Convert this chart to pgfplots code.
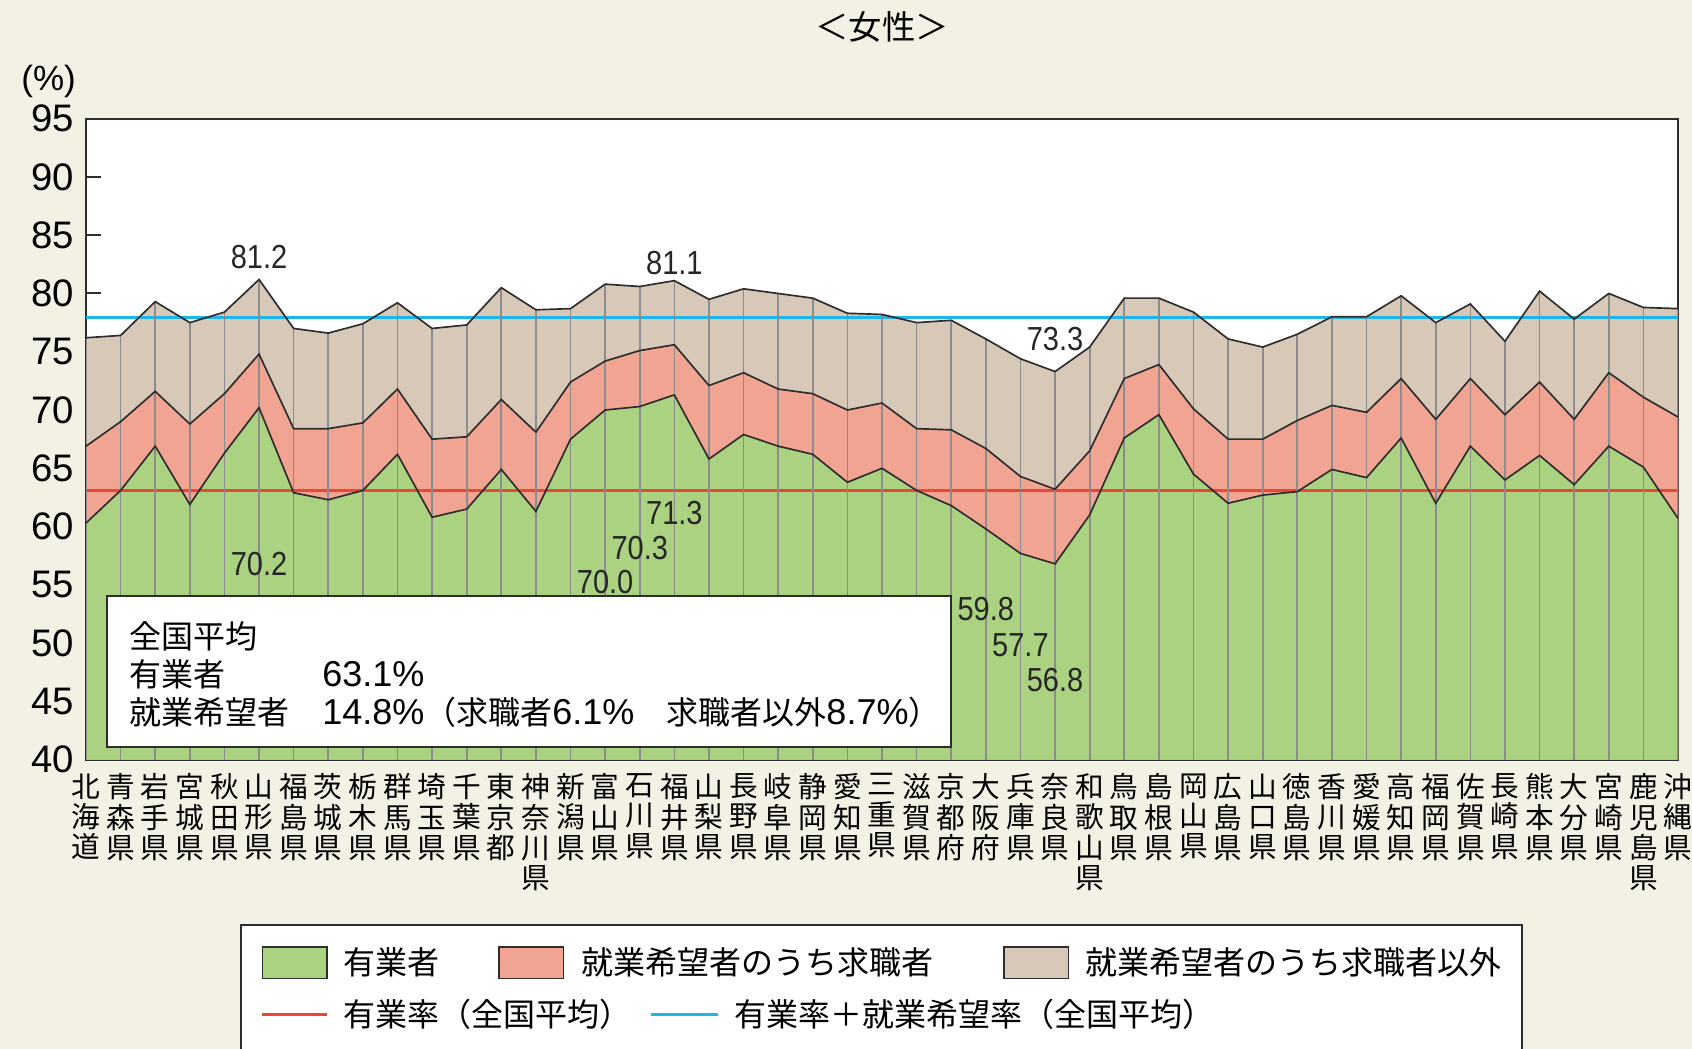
\documentclass[border=0pt]{standalone}
\usepackage{fontspec}
\usepackage{pgfplots}
\pgfplotsset{compat=1.18}
\usepackage{pgfplotstable}
\setmainfont{Liberation Sans}
\newfontfamily\jp{Noto Sans CJK JP}
\newfontfamily\narrow[FakeStretch=0.87]{Liberation Sans}
\definecolor{bg}{RGB}{243,240,228}
\definecolor{gr}{RGB}{170,210,128}
\definecolor{sa}{RGB}{242,164,146}
\definecolor{be}{RGB}{215,200,184}
\definecolor{bl}{RGB}{30,182,232}
\definecolor{rd}{RGB}{234,72,52}
\definecolor{ol}{RGB}{45,45,45}

\pgfplotstableread{
x g m t
0 60.3 66.9 76.2
1 63.1 69.0 76.4
2 66.9 71.6 79.3
3 61.9 68.8 77.5
4 66.3 71.4 78.4
5 70.2 74.8 81.2
6 62.9 68.4 77.0
7 62.3 68.4 76.6
8 63.1 68.9 77.4
9 66.2 71.8 79.2
10 60.8 67.5 77.0
11 61.5 67.7 77.3
12 64.9 70.9 80.5
13 61.3 68.1 78.6
14 67.5 72.4 78.7
15 70.0 74.2 80.8
16 70.3 75.1 80.6
17 71.3 75.6 81.1
18 65.8 72.1 79.5
19 67.9 73.2 80.4
20 66.9 71.8 80.0
21 66.2 71.4 79.6
22 63.8 70.0 78.3
23 65.0 70.6 78.2
24 63.1 68.4 77.5
25 61.8 68.3 77.7
26 59.8 66.7 76.1
27 57.7 64.3 74.4
28 56.8 63.2 73.3
29 61.0 66.5 75.4
30 67.6 72.7 79.6
31 69.6 73.9 79.6
32 64.5 70.1 78.4
33 62.0 67.5 76.1
34 62.7 67.5 75.4
35 63.0 69.1 76.5
36 64.9 70.4 78.0
37 64.2 69.8 78.0
38 67.6 72.7 79.8
39 62.0 69.2 77.5
40 66.9 72.7 79.1
41 64.0 69.6 75.9
42 66.1 72.4 80.2
43 63.6 69.2 77.8
44 66.9 73.2 80.0
45 65.1 71.1 78.8
46 60.7 69.4 78.7
}\data

\begin{document}
\begin{tikzpicture}
\fill[bg] (0pt,0pt) rectangle (507.6pt,314.7pt);
\useasboundingbox (0pt,0pt) rectangle (507.6pt,314.7pt);
\node[font=\jp\fontsize{10}{12}\selectfont] at (264.6pt,306.6pt) {＜女性＞};
\node[font=\fontsize{10.5}{12}\selectfont] at (14.6pt,290.4pt) {(\%)};
\begin{axis}[
  at={(25.8pt,86.8pt)}, anchor=south west, scale only axis,
  width=477.6pt, height=192.3pt,
  xmin=0, xmax=46, ymin=40, ymax=95,
  axis background/.style={fill=white},
  axis line style={line width=0.6pt, ol},
  ytick={40,45,...,95}, ytick pos=left,
  major tick length=4.5pt,
  ytick style={line width=0.6pt, ol},
  yticklabel style={font=\fontsize{11.5}{12}\selectfont},
  /pgf/number format/assume math mode=true,
  xtick={0,...,46}, xtick pos=bottom,
  xtick style={draw=none},
  xticklabel style={font=\jp\fontsize{8.6}{9.1}\selectfont, align=center, anchor=north, inner sep=0pt, yshift=-4pt},
  xticklabels={{北\\海\\道},{青\\森\\県},{岩\\手\\県},{宮\\城\\県},{秋\\田\\県},{山\\形\\県},{福\\島\\県},{茨\\城\\県},{栃\\木\\県},{群\\馬\\県},{埼\\玉\\県},{千\\葉\\県},{東\\京\\都},{神\\奈\\川\\県},{新\\潟\\県},{富\\山\\県},{石\\川\\県},{福\\井\\県},{山\\梨\\県},{長\\野\\県},{岐\\阜\\県},{静\\岡\\県},{愛\\知\\県},{三\\重\\県},{滋\\賀\\県},{京\\都\\府},{大\\阪\\府},{兵\\庫\\県},{奈\\良\\県},{和\\歌\\山\\県},{鳥\\取\\県},{島\\根\\県},{岡\\山\\県},{広\\島\\県},{山\\口\\県},{徳\\島\\県},{香\\川\\県},{愛\\媛\\県},{高\\知\\県},{福\\岡\\県},{佐\\賀\\県},{長\\崎\\県},{熊\\本\\県},{大\\分\\県},{宮\\崎\\県},{鹿\\児\\島\\県},{沖\\縄\\県}},
]
\addplot[draw=none, fill=be] table[x=x,y=t] {\data} \closedcycle;
\addplot[draw=none, fill=sa] table[x=x,y=m] {\data} \closedcycle;
\addplot[draw=none, fill=gr] table[x=x,y=g] {\data} \closedcycle;
\addplot[rd, line width=0.9pt] coordinates {(0,63.1) (46,63.1)};
\addplot[bl, line width=0.9pt] coordinates {(0,77.9) (46,77.9)};
\addplot[ycomb, gray!90, line width=0.5pt, mark=none] table[x=x,y=t] {\data};
\addplot[ol, line width=0.5pt, mark=none] table[x=x,y=t] {\data};
\addplot[ol, line width=0.5pt, mark=none] table[x=x,y=m] {\data};
\addplot[ol, line width=0.5pt, mark=none] table[x=x,y=g] {\data};
% labels
\begin{scope}[every node/.style={font=\narrow\fontsize{10}{12}\selectfont, text=black!85}]
\node at (axis cs:5,83.1) {81.2};
\node at (axis cs:5,56.8) {70.2};
\node at (axis cs:15,55.2) {70.0};
\node at (axis cs:16,58.2) {70.3};
\node at (axis cs:17,61.2) {71.3};
\node at (axis cs:17,82.6) {81.1};
\node at (axis cs:28,76.1) {73.3};
\node at (axis cs:26,52.9) {59.8};
\node at (axis cs:27,49.8) {57.7};
\node at (axis cs:28,46.8) {56.8};
\end{scope}
\draw[ol, line width=0.6pt, fill=white] (axis cs:0.62,41.1) rectangle (axis cs:25.0,54.0);
\begin{scope}[every node/.style={anchor=west, inner sep=0pt}]
\node[font=\jp\fontsize{9.6}{11}\selectfont] at (axis cs:1.25,50.6) {全国平均};
\node[font=\jp\fontsize{9.6}{11}\selectfont] at (axis cs:1.25,47.3) {有業者};
\node[font=\jp\fontsize{9.6}{11}\selectfont] at (axis cs:1.25,44.1) {就業希望者};
\node[font=\fontsize{10.8}{12}\selectfont] at (axis cs:6.81,47.3) {63.1\%};
\node[font=\fontsize{10.8}{12}\selectfont] at (axis cs:6.81,44.1) {14.8\%{\jp\fontsize{9.6}{11}\selectfont （求職者}6.1\%{\jp\fontsize{9.6}{11}\selectfont 　求職者以外}8.7\%{\jp\fontsize{9.6}{11}\selectfont ）}};
\end{scope}
\end{axis}
% legend
\draw[ol, line width=0.6pt, fill=white] (72.2pt,-2pt) rectangle (456.5pt,37.3pt);
\draw[ol, line width=0.5pt, fill=gr] (78.7pt,21.1pt) rectangle (98.1pt,30.5pt);
\draw[ol, line width=0.5pt, fill=sa] (149.6pt,21.1pt) rectangle (169.0pt,30.5pt);
\draw[ol, line width=0.5pt, fill=be] (301.1pt,21.1pt) rectangle (320.5pt,30.5pt);
\draw[rd, line width=0.8pt] (78.7pt,10.4pt) -- (98.1pt,10.4pt);
\draw[bl, line width=0.8pt] (195.2pt,10.4pt) -- (215.3pt,10.4pt);
\begin{scope}[every node/.style={anchor=west, inner sep=0pt, font=\jp\fontsize{9.6}{11}\selectfont}]
\node at (102.9pt,25.9pt) {有業者};
\node at (174.2pt,25.9pt) {就業希望者のうち求職者};
\node at (325.4pt,25.9pt) {就業希望者のうち求職者以外};
\node at (102.9pt,10.4pt) {有業率（全国平均）};
\node at (220.1pt,10.4pt) {有業率＋就業希望率（全国平均）};
\end{scope}
\end{tikzpicture}
\end{document}
